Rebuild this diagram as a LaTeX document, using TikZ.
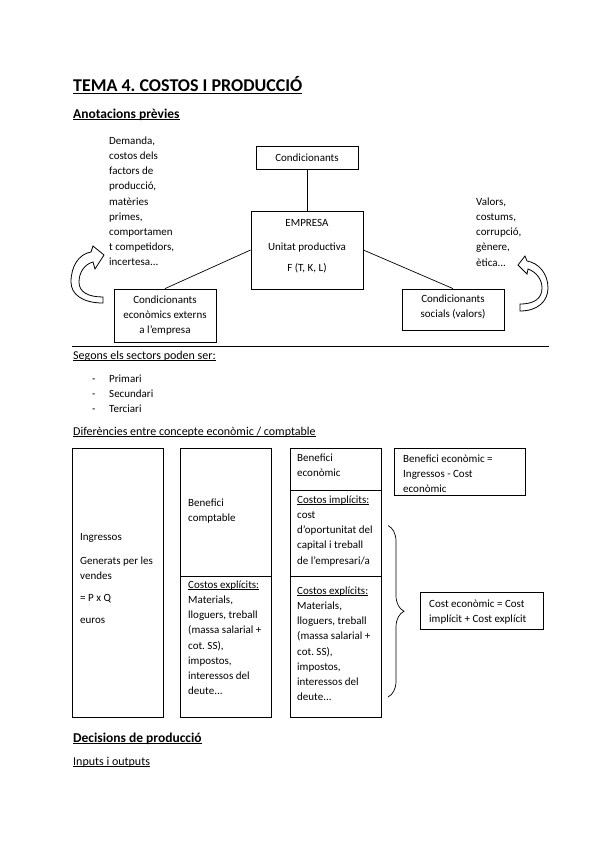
\documentclass[tikz,border=0pt]{standalone}
\usepackage{fontspec}
\setmainfont{Carlito}
\usetikzlibrary{decorations.pathreplacing}
\frenchspacing
\newcommand\myul[2][1.7pt]{\setbox0\hbox{#2}\rlap{\rule[-#1]{\wd0}{0.75pt}}\box0}
\tikzset{
  bx/.style={draw=black, line width=0.8pt, inner sep=0pt},
  ln/.style={anchor=base west, inner sep=0pt},
  blk/.style={anchor=north west, inner sep=0pt, align=left},
  conn/.style={draw=black, line width=0.7pt},
  arw/.style={draw=black, line width=0.8pt, fill=white, line join=miter},
  sub/.style={anchor=base west, inner sep=0pt, font=\fontsize{12}{15}\selectfont},
}
\begin{document}
\begin{tikzpicture}[x=1pt,y=-1pt,font=\fontsize{11}{15.2}\selectfont]
\useasboundingbox (0,0) rectangle (599,848);
% headings
\node[ln, font=\fontsize{18}{21}\selectfont\bfseries] (title) at (73,91.5) {\myul[2.2pt]{TEMA 4. COSTOS I PRODUCCIÓ}};
\node[ln, font=\fontsize{13.5}{16}\selectfont\bfseries] (anot) at (73,118) {\myul{Anotacions prèvies}};
% top diagram
\node[bx, minimum width=102pt, minimum height=23pt] (cond) at (307,157.5) {Condicionants};
\node[bx, minimum width=112pt, minimum height=78pt] (emp) at (307,250) {};
\node[ln, anchor=base] (empa) at (307,226) {EMPRESA};
\node[ln, anchor=base] (empb) at (307,250) {Unitat productiva};
\node[ln, anchor=base] (empc) at (307,271) {F (T, K, L)};
\node[bx, minimum width=102pt, minimum height=53pt] (econ) at (165,315.5) {};
\node[blk, anchor=north, align=center] (econt) at (165,292.4) {\strut Condicionants\\econòmics externs\\a l'empresa};
\node[bx, minimum width=102pt, minimum height=41pt] (soc) at (453,309.5) {};
\node[blk, anchor=north, align=center] (soct) at (453,291.4) {\strut Condicionants\\socials (valors)};
\draw[conn] (cond) -- (emp);
\draw[conn] (emp.west) -- (econ.north);
\draw[conn] (emp.east) -- (soc.north);
\node[blk] (dem) at (109,133.4) {\strut Demanda,\\costos dels\\factors de\\producció,\\matèries\\primes,\\comportamen\\t competidors,\\incertesa...};
\node[blk] (val) at (476,194.4) {\strut Valors,\\costums,\\corrupció,\\gènere,\\ètica...};
% curved block arrows
\draw[arw] (103,303) .. controls (82,303) and (71,294) .. (71,282)
  .. controls (71,266) and (79,254) .. (91,252) -- (93,246) -- (104,255) -- (95,269) -- (93,262)
  .. controls (85,264) and (79,272) .. (79,282)
  .. controls (79,292) and (88,297) .. (103,297) -- cycle;
\draw[arw] (520,311) .. controls (538,311) and (548,301) .. (548,288)
  .. controls (548,274) and (539,263) .. (527,261) -- (525,256) -- (518,265) -- (527,274) -- (528,269)
  .. controls (536,272) and (542,279) .. (542,288)
  .. controls (542,298) and (535,304) .. (520,304) -- cycle;
% rule
\coordinate (r1) at (72,346);
\coordinate (r2) at (549,346);
\draw[line width=0.8pt] (r1) -- (r2);
% sectors
\node[sub] (seg) at (73,359.5) {\myul{Segons els sectors poden ser:}};
\node[ln] (d1) at (92,382) {-};
\node[ln] (s1) at (109,382) {Primari};
\node[ln] (d2) at (92,397) {-};
\node[ln] (s2) at (109,397) {Secundari};
\node[ln] (d3) at (92,412) {-};
\node[ln] (s3) at (109,412) {Terciari};
\node[sub] (dif) at (73,435.5) {\myul{Diferències entre concepte econòmic / comptable}};
% columns
\node[bx, minimum width=91pt, minimum height=269pt] (ingr) at (117.5,582.5) {};
\node[bx, minimum width=91pt, minimum height=269pt] (comp) at (225.5,582.5) {};
\node[bx, minimum width=91pt, minimum height=269pt] (ecol) at (335.5,582.5) {};
\coordinate (c2a) at (180,576); \coordinate (c2b) at (271,576);
\draw[line width=0.8pt] (c2a) -- (c2b);
\coordinate (c3a) at (290,490); \coordinate (c3b) at (381,490);
\draw[line width=0.8pt] (c3a) -- (c3b);
\coordinate (c3c) at (290,576); \coordinate (c3d) at (381,576);
\draw[line width=0.8pt] (c3c) -- (c3d);
\node[ln] (i1) at (80,540) {Ingressos};
\node[ln] (i2) at (80,564) {Generats per les};
\node[ln] (i3) at (80,579) {vendes};
\node[ln] (i4) at (80,601) {= P x Q};
\node[ln] (i5) at (80,623) {euros};
\node[blk] (bc) at (188,495.4) {\strut Benefici\\comptable};
\node[blk] (ce2) at (188,577.4) {\strut\myul{Costos explícits:}\\Materials,\\lloguers, treball\\(massa salarial +\\cot. SS),\\impostos,\\interessos del\\deute...};
\node[blk] (be) at (297,450.4) {\strut Benefici\\econòmic};
\node[blk] (ci3) at (297,492.4) {\strut\myul{Costos implícits:}\\cost\\d'oportunitat del\\capital i treball\\de l'empresari/a};
\node[blk] (ce3) at (297,583.4) {\strut\myul{Costos explícits:}\\Materials,\\lloguers, treball\\(massa salarial +\\cot. SS),\\impostos,\\interessos del\\deute...};
\node[bx, minimum width=131pt, minimum height=47pt] (bebox) at (459.5,471.5) {};
\node[blk] (bet) at (403,451.4) {\strut Benefici econòmic =\\Ingressos - Cost\\econòmic};
\coordinate (bt) at (388,525.5);
\coordinate (bb) at (388,697);
\draw[line width=0.7pt, decorate, decoration={brace, amplitude=16pt}] (bt) -- (bb);
\node[bx, minimum width=123pt, minimum height=37pt] (cebox) at (481.5,611) {};
\node[blk] (cet) at (429,596.4) {\strut Cost econòmic = Cost\\implícit + Cost explícit};
% bottom headings
\node[ln, font=\fontsize{13.5}{16}\selectfont\bfseries] (dec) at (73,742) {\myul{Decisions de producció}};
\node[sub] (inp) at (73,765.5) {\myul{Inputs i outputs}};
\end{tikzpicture}
\end{document}
